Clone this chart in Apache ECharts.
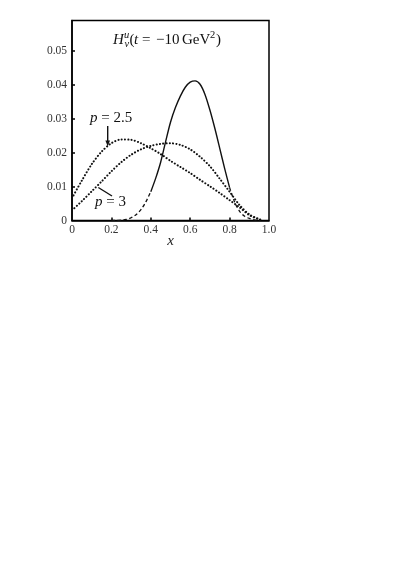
<!DOCTYPE html>
<html>
<head>
<meta charset="utf-8">
<script src="https://cdn.jsdelivr.net/npm/echarts@6/dist/echarts.min.js"></script>
<style>html,body{margin:0;background:#fff}#c{width:415px;height:586px}</style>
</head>
<body>
<div id="c"></div>
<script>
/* H_v^u at t = -10 GeV^2 : three model curves vs x */
const xs     = [0, 0.05, 0.1, 0.15, 0.2, 0.25, 0.3, 0.35, 0.4, 0.45, 0.5, 0.55, 0.6, 0.65, 0.7, 0.75, 0.8, 0.85, 0.9, 0.95, 0.97];
const hP25   = [0.0066, 0.0118, 0.0166, 0.0203, 0.0228, 0.0239, 0.0238, 0.0228, 0.0213, 0.0196, 0.0176, 0.0158, 0.0140, 0.0120, 0.0101, 0.0081, 0.0060, 0.0039, 0.0016, 0.0003, 0];
const hP3    = [0.0030, 0.0057, 0.0086, 0.0115, 0.0145, 0.0172, 0.0194, 0.0210, 0.0220, 0.0226, 0.0228, 0.0223, 0.0210, 0.0188, 0.0160, 0.0123, 0.0085, 0.0046, 0.0018, 0.0004, 0];
const xMain  = [0.2, 0.225, 0.25, 0.275, 0.3, 0.325, 0.35, 0.375, 0.4, 0.425, 0.45, 0.475, 0.5, 0.525, 0.55, 0.575, 0.6, 0.625,
                0.65, 0.675, 0.7, 0.725, 0.75, 0.775, 0.8, 0.825, 0.85, 0.875, 0.9, 0.925, 0.95];
const hMain  = [0, 0, 0.0001, 0.0003, 0.0008, 0.0017, 0.0032, 0.0055, 0.0085, 0.0125, 0.0172, 0.0232, 0.0290, 0.0333, 0.0367, 0.0393, 0.0408, 0.0412,
                0.0402, 0.0372, 0.0326, 0.0272, 0.0213, 0.0153, 0.0097, 0.0055, 0.0028, 0.0013, 0.0006, 0.0002, 0];
const xTicks = [0, 0.2, 0.4, 0.6, 0.8, 1.0];
const yTicks = [0, 0.01, 0.02, 0.03, 0.04, 0.05];
const solidFrom = 0.4, solidTo = 0.8;   // main curve drawn dashed outside this range

const SERIF = '"Liberation Serif", "DejaVu Serif", serif';
const zip = (xv, yv) => xv.map((x, i) => [x, yv[i]]);
const mainPts = zip(xMain, hMain);
const part = keep => mainPts.filter(p => keep(p[0]));

const chart = echarts.init(document.getElementById('c'), null, { renderer: 'canvas' });

const dotted = { color: '#111', width: 2, type: [0.1, 3.2], cap: 'round' };
const dashed = { color: '#111', width: 1.3, type: [3.5, 2.5] };
const axisCommon = {
  axisLine: { lineStyle: { color: '#000', width: 1.5 } },
  splitLine: { show: false }
};

chart.setOption({
  animation: false,
  grid: { left: 72, top: 20.5, width: 197, height: 200, show: true, borderColor: '#000', borderWidth: 1.5, containLabel: false, outerBoundsMode: 'none' },
  xAxis: Object.assign({
    type: 'value', min: 0, max: 1, interval: 0.2,
    axisTick: { inside: true, length: 3, customValues: xTicks.slice(1, -1), lineStyle: { color: '#000', width: 1.5 } },
    axisLabel: { color: '#333', fontFamily: SERIF, fontSize: 11.5, margin: 3, customValues: xTicks,
      formatter: v => v === 0 ? '0' : v.toFixed(1) },
    name: 'x', nameLocation: 'middle', nameGap: 21, nameMoveOverlap: false,
    nameTextStyle: { fontFamily: SERIF, fontStyle: 'italic', fontSize: 15, color: '#222', verticalAlign: 'middle' }
  }, axisCommon),
  yAxis: Object.assign({
    type: 'value', min: 0, max: 0.059, interval: 0.01,
    axisTick: { inside: true, length: 3, customValues: yTicks.slice(1), lineStyle: { color: '#000', width: 1.5 } },
    axisLabel: { color: '#333', fontFamily: SERIF, fontSize: 11.5, margin: 5, customValues: yTicks,
      formatter: v => v === 0 ? '0' : v.toFixed(2) }
  }, axisCommon),
  series: [
    { type: 'line', data: part(x => x <= solidFrom + 1e-9), smooth: 0.3, symbol: 'none', lineStyle: dashed },
    { type: 'line', data: part(x => x >= solidFrom - 1e-9 && x <= solidTo + 1e-9), smooth: 0.3, symbol: 'none', lineStyle: { color: '#111', width: 1.4 } },
    { type: 'line', data: part(x => x >= solidTo - 1e-9), smooth: 0.3, symbol: 'none', lineStyle: dashed },
    { type: 'line', data: zip(xs, hP25), smooth: 0.3, symbol: 'none', lineStyle: dotted },
    { type: 'line', data: zip(xs, hP3), smooth: 0.3, symbol: 'none', lineStyle: dotted }
  ],
  graphic: [
    // title pieces
    { type: 'text', left: 113, top: 33, style: { text: 'H', fontFamily: SERIF, fontStyle: 'italic', fontSize: 15, fill: '#111' } },
    { type: 'text', left: 124, top: 30, style: { text: 'u', fontFamily: SERIF, fontStyle: 'italic', fontSize: 10.5, fill: '#111' } },
    { type: 'text', left: 124.5, top: 39, style: { text: 'v', fontFamily: SERIF, fontStyle: 'italic', fontSize: 10.5, fill: '#111' } },
    { type: 'text', left: 129.5, top: 33, style: { text: '(', fontFamily: SERIF, fontSize: 15, fill: '#111' } },
    { type: 'text', left: 134, top: 33, style: { text: 't', fontFamily: SERIF, fontStyle: 'italic', fontSize: 15, fill: '#111' } },
    { type: 'text', left: 142, top: 33, style: { text: '=', fontFamily: SERIF, fontSize: 15, fill: '#111' } },
    { type: 'text', left: 156, top: 33, style: { text: '\u221210', fontFamily: SERIF, fontSize: 15, fill: '#111' } },
    { type: 'text', left: 182, top: 33, style: { text: 'GeV', fontFamily: SERIF, fontSize: 15, fill: '#111' } },
    { type: 'text', left: 210, top: 30, style: { text: '2', fontFamily: SERIF, fontSize: 10.5, fill: '#111' } },
    { type: 'text', left: 216, top: 33, style: { text: ')', fontFamily: SERIF, fontSize: 15, fill: '#111' } },
    // p = 2.5 label and arrow
    { type: 'text', left: 90, top: 111, style: { text: '{i|p} = 2.5', fontFamily: SERIF, fontSize: 15, fill: '#111', rich: { i: { fontStyle: 'italic', fontFamily: SERIF, fontSize: 15 } } } },
    { type: 'line', shape: { x1: 107.7, y1: 126, x2: 107.7, y2: 143 }, style: { stroke: '#111', lineWidth: 1.4 } },
    { type: 'polygon', shape: { points: [[105.4, 140.5], [110, 140.5], [107.7, 146.5]] }, style: { fill: '#111' } },
    // p = 3 label and pointer
    { type: 'text', left: 95, top: 195, style: { text: '{i|p} = 3', fontFamily: SERIF, fontSize: 15, fill: '#111', rich: { i: { fontStyle: 'italic', fontFamily: SERIF, fontSize: 15 } } } },
    { type: 'line', shape: { x1: 98.3, y1: 187.5, x2: 112, y2: 196 }, style: { stroke: '#111', lineWidth: 1.4 } }
  ]
});
</script>
</body>
</html>
